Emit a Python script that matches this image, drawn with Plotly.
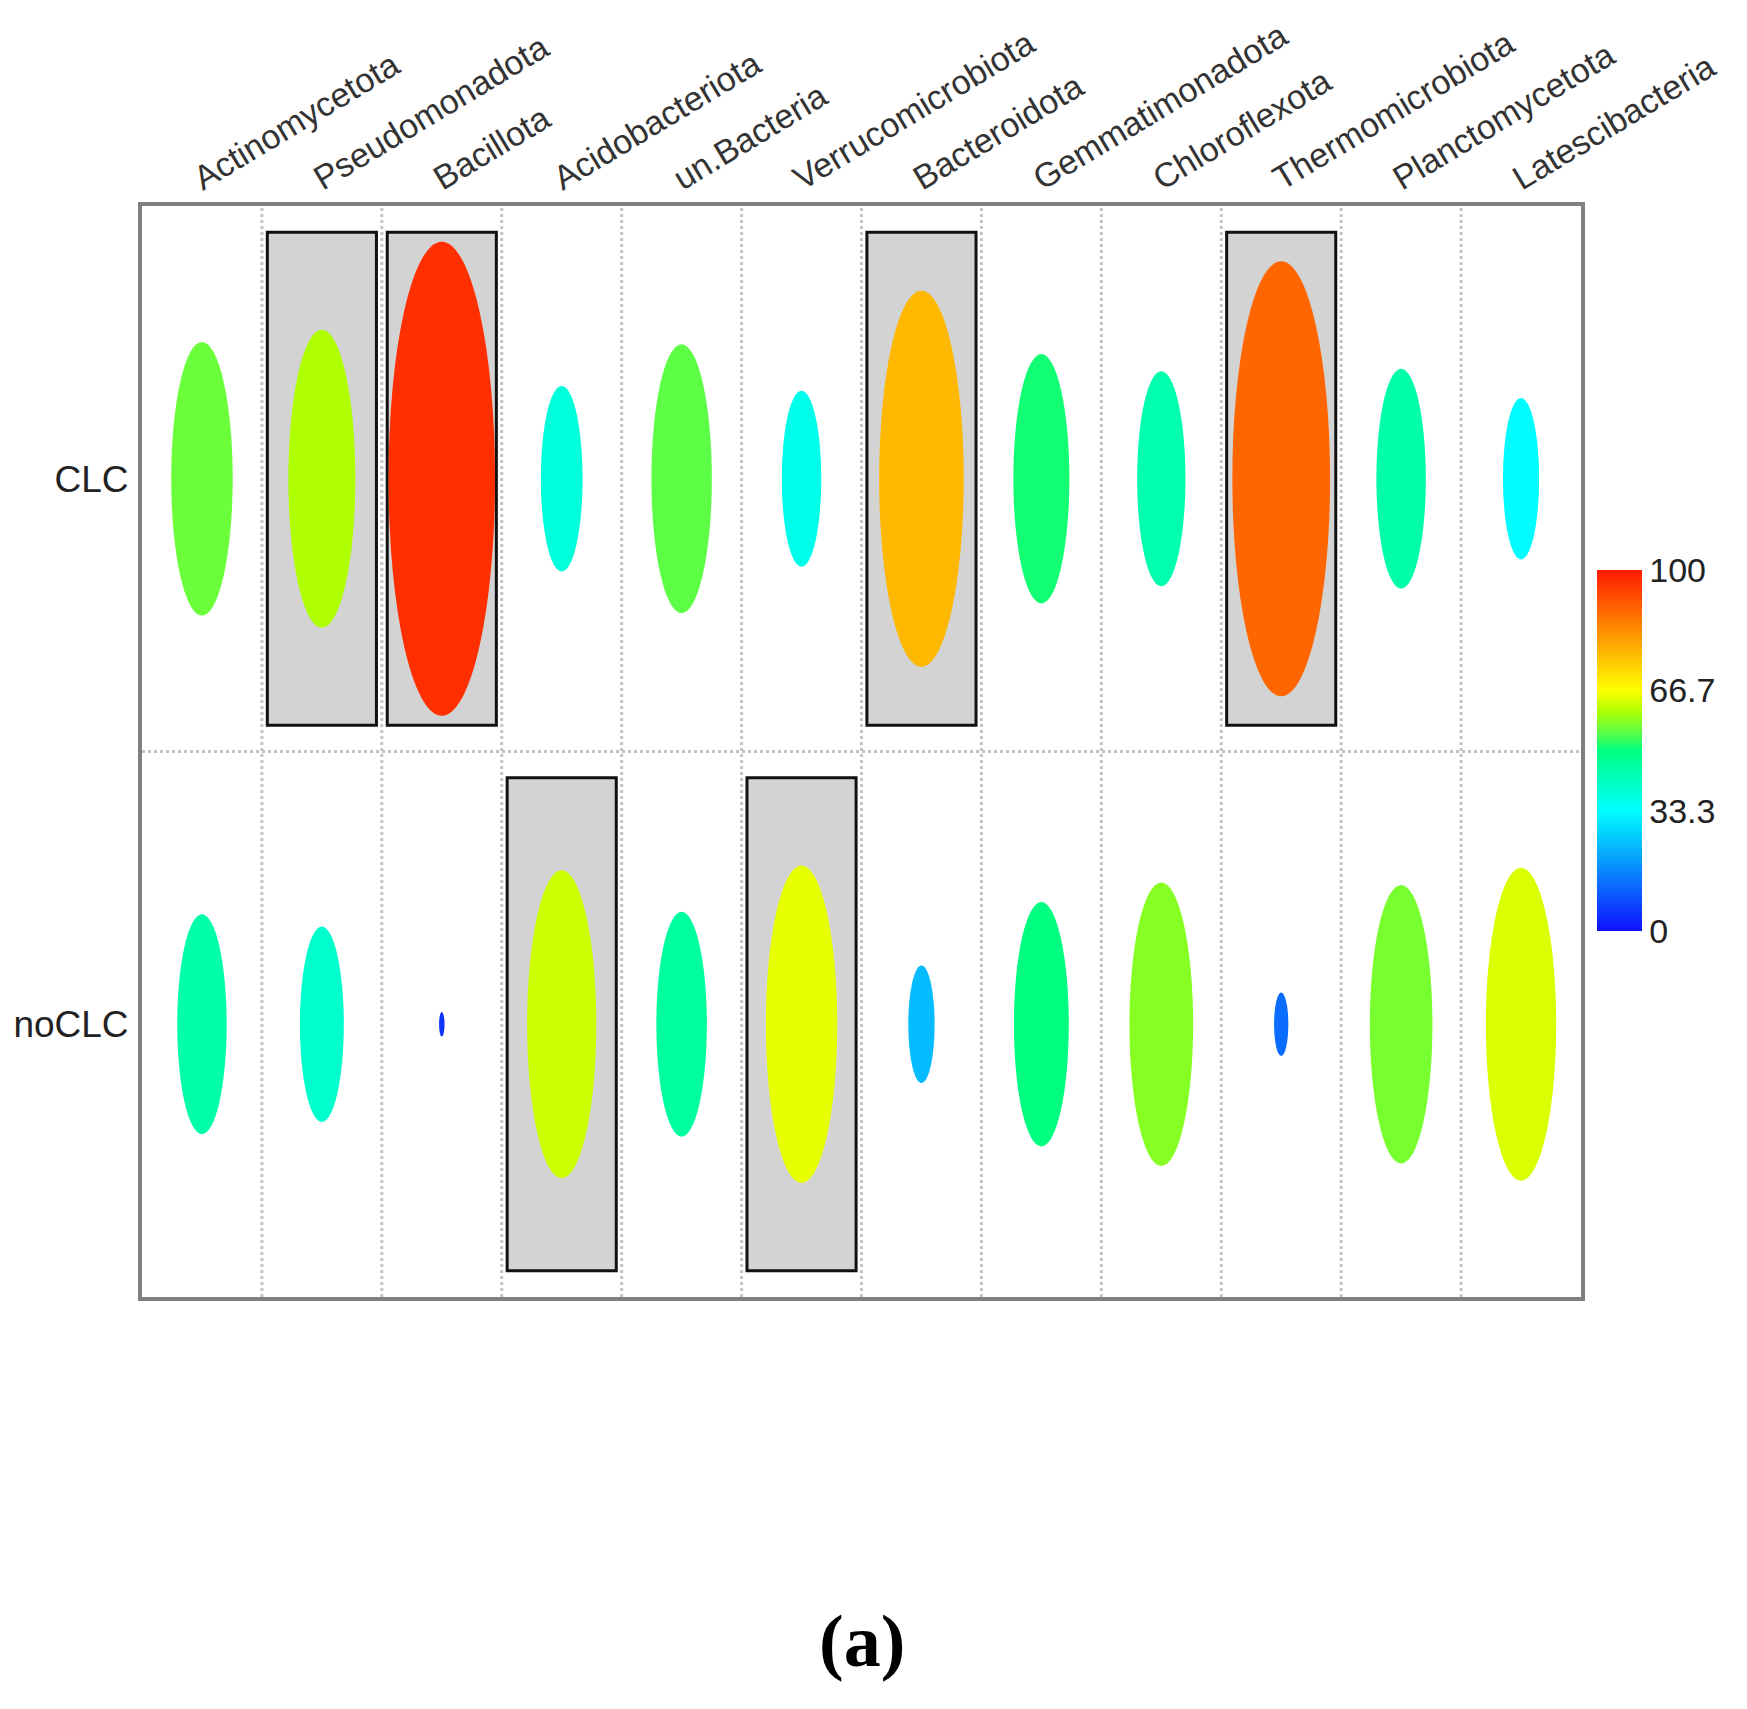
import plotly.graph_objects as go
from plotly.colors import sample_colorscale

phyla = ["Actinomycetota", "Pseudomonadota", "Bacillota", "Acidobacteriota", "un.Bacteria",
         "Verrucomicrobiota", "Bacteroidota", "Gemmatimonadota", "Chloroflexota",
         "Thermomicrobiota", "Planctomycetota", "Latescibacteria"]
groups = ["noCLC", "CLC"]  # bottom row, top row
clc_values = [56, 61, 97, 38, 55, 36, 77, 51, 44, 89, 45, 33]
noclc_values = [45, 40, 5, 63, 46, 65, 24, 50, 58, 13, 57, 64]
clc_sig = [0, 1, 1, 0, 0, 0, 1, 0, 0, 1, 0, 0]
noclc_sig = [0, 0, 0, 1, 0, 1, 0, 0, 0, 0, 0, 0]
cbar_ticks = [0, 33.3, 66.7, 100]
cbar_text = ["0", "33.3", "66.7", "100"]

colorscale = [[0.0, "#1010FF"], [0.333, "#00FFFF"], [0.5, "#00FF80"], [0.55, "#5CFF46"],
              [0.61, "#B0FF00"], [0.667, "#FFFF00"], [1.0, "#FF1A00"]]

values_by_row = [noclc_values, clc_values]
sig_by_row = [noclc_sig, clc_sig]

fig = go.Figure()

shapes = []
# dotted grid lines at category boundaries
for i in range(1, len(phyla)):
    shapes.append(dict(type="line", xref="x", yref="y", x0=i - 0.5, x1=i - 0.5, y0=-0.5, y1=1.5,
                       line=dict(color="#c4c4c4", width=3, dash="dot"), layer="below"))
shapes.append(dict(type="line", xref="x", yref="y", x0=-0.5, x1=len(phyla) - 0.5, y0=0.5, y1=0.5,
                   line=dict(color="#c4c4c4", width=3, dash="dot"), layer="below"))

# highlight boxes
for r, sig in enumerate(sig_by_row):
    for i, s in enumerate(sig):
        if s:
            shapes.append(dict(type="rect", xref="x", yref="y", x0=i - 0.455, x1=i + 0.455,
                               y0=r - 0.452, y1=r + 0.452, fillcolor="#D3D3D3",
                               line=dict(color="#111111", width=3), layer="above"))

# ellipses
for r, vals in enumerate(values_by_row):
    cols = sample_colorscale(colorscale, [v / 100 for v in vals])
    for i, v in enumerate(vals):
        rx = 0.458 * v / 100
        ry = 0.448 * v / 100
        shapes.append(dict(type="circle", xref="x", yref="y", x0=i - rx, x1=i + rx,
                           y0=r - ry, y1=r + ry, fillcolor=cols[i],
                           line=dict(width=0), layer="above"))

# colorbar carrier
fig.add_trace(go.Scatter(
    x=[None, None], y=[None, None], mode="markers",
    marker=dict(color=[0, 100], cmin=0, cmax=100, colorscale=colorscale, showscale=True,
                colorbar=dict(x=1.011, xanchor="left", xpad=0, y=0.501, yanchor="middle",
                              len=0.331, lenmode="fraction", ypad=0, thickness=45,
                              outlinewidth=0, tickvals=cbar_ticks, ticktext=cbar_text,
                              ticks="", ticklabelposition="outside",
                              tickfont=dict(family="Liberation Sans", size=34, color="#222"))),
    showlegend=False, hoverinfo="skip"))

fig.update_layout(
    width=1747, height=1709,
    margin=dict(l=134, r=174, t=198, b=420, autoexpand=False),
    plot_bgcolor="white", paper_bgcolor="white",
    shapes=shapes,
    showlegend=False,
    xaxis=dict(range=[-0.5, len(phyla) - 0.5], side="top", tickvals=list(range(len(phyla))),
               ticktext=phyla, tickangle=-31, showgrid=False, zeroline=False,
               showline=True, mirror=True, linecolor="#808080", linewidth=4, ticks="",
               automargin=False, ticklabelshift=-8, ticklabelstandoff=-5,
               tickfont=dict(family="Liberation Sans", size=34, color="#333")),
    yaxis=dict(range=[-0.5, 1.5], tickvals=[0, 1], ticktext=groups, showgrid=False,
               zeroline=False, showline=True, mirror=True, linecolor="#808080", linewidth=4,
               ticks="", ticklabelstandoff=2, automargin=False,
               tickfont=dict(family="Liberation Sans", size=37, color="#222")),
    annotations=[dict(text="<b>(a)</b>", xref="paper", yref="paper", x=0.5, y=-0.315,
                      yanchor="middle", showarrow=False,
                      font=dict(family="Liberation Serif", size=74, color="black"))],
)

fig.write_html("out.html")
